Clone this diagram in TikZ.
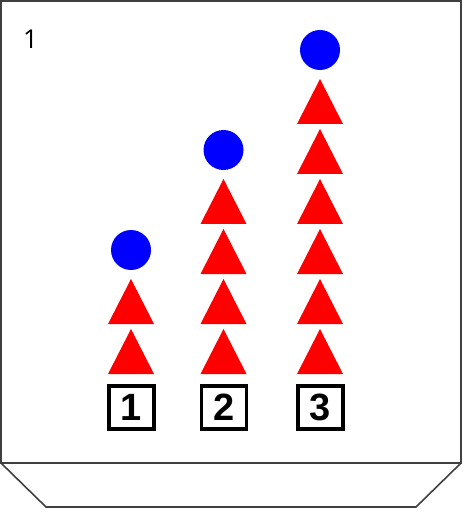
\documentclass[tikz,border=0pt]{standalone}
\usepackage{fontspec}
\setmainfont{Liberation Sans}
\newfontfamily\labelfont{Open Sans}
\begin{document}
\begin{tikzpicture}[x=1pt,y=-1pt,
  frame/.style={draw=black!75,line width=1.6pt,line join=miter},
  tri/.style={fill=red},
  ball/.style={fill=blue},
  numbox/.style={draw=black,line width=3.6pt,minimum width=45pt,minimum height=43pt,
    inner sep=0pt,font=\bfseries\fontsize{38}{38}\selectfont},
  tagtext/.style={font=\labelfont\fontsize{26}{26}\selectfont}]
\useasboundingbox (0,0) rectangle (465,518);
% container: upper box and the sloped base below it
\draw[frame] (1,1) rectangle (461,463);
\draw[frame] (1,463) -- (46,507) -- (416,507) -- (461,463);
\node[anchor=base west,tagtext,inner sep=0pt] (tag) at (23,49) {1};
% stacks: column centre, number of triangles
\foreach \cx/\n/\lbl in {131/2/1,223.5/4/2,320/6/3}{
  \foreach \k in {1,...,\n}{
    \pgfmathsetmacro{\apex}{329-50*(\k-1)}
    \fill[tri] (\cx,\apex) -- (\cx+23,\apex+45) -- (\cx-23,\apex+45) -- cycle;
  }
  \pgfmathsetmacro{\cy}{329-50*(\n-1)-29}
  \fill[ball] (\cx,\cy) circle (20);
  \node[numbox] (box\lbl) at (\cx+0.5,407.5) {\lbl};
}
\end{tikzpicture}
\end{document}
